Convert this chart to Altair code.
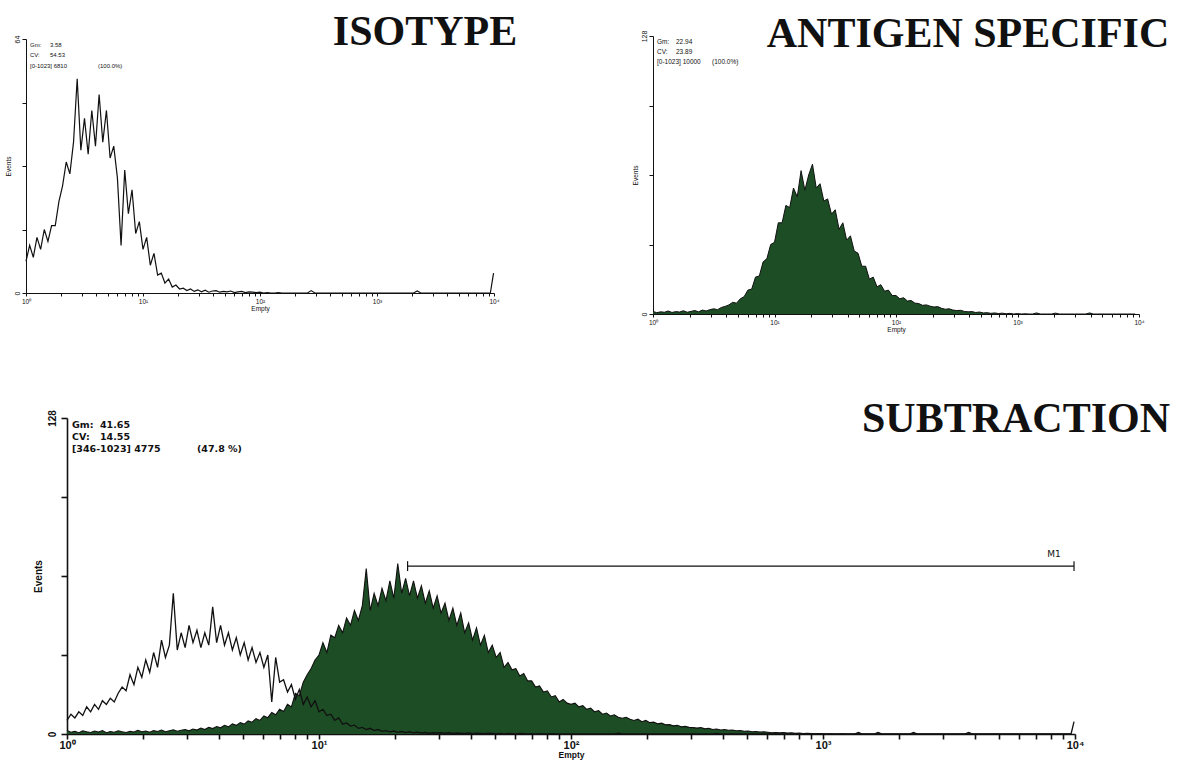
import numpy as np
import pandas as pd
import altair as alt

W, H = 1186, 760
GREEN = "#1d4d25"
INK = "#111111"

# ---- histogram counts (1024-channel, 4-decade log amplifier) ----
# upper panels: one value every 8 channels
isotype_counts = [
    8, 12, 9, 14, 11, 16, 13, 17, 17, 23, 27, 33, 30, 38, 54, 36,
    44, 35, 46, 37, 50, 38, 46, 34, 37, 29, 12, 31, 20, 26, 15, 18,
    11, 14, 7, 10, 4.5, 5, 2.5, 3.5, 1.5, 2, 1, 1.2, 0.6, 1, 0.4, 0.8,
    0.3, 0.7, 0.2, 0.5, 0.6, 0.2, 0.4, 0.3, 0.5, 0.1, 0.3, 0.4, 0.1, 0.3, 0.2, 0.1,
    0.2, 0, 0.1, 0, 0, 0.1, 0, 0, 0, 0, 0, 0, 0, 0, 0.6, 0,
    0, 0, 0, 0, 0, 0, 0, 0, 0, 0, 0, 0, 0, 0, 0, 0,
    0, 0, 0, 0, 0, 0, 0, 0, 0, 0, 0, 0.5, 0, 0, 0, 0,
    0, 0, 0, 0, 0, 0, 0, 0, 0, 0, 0, 0, 0, 0, 0, 0,
]
isotype_last = 5.0  # off-scale events piled in channel 1023

antigen_counts = [
    1.2, 0.6, 1.0, 0.8, 1.4, 0.7, 1.1, 0.9, 1.5, 0.8, 1.2, 1.6, 1.0, 1.8, 1.4, 2.0,
    2.4, 2.0, 3.0, 3.5, 4.2, 5.4, 5.0, 7.0, 8.0, 11, 11.5, 17, 17.5, 24, 25.5, 32,
    33, 42, 42, 50, 49, 58, 54, 66, 57, 64, 69, 58, 60, 52, 53, 46,
    48, 39, 42, 34, 36, 29, 28, 22, 22, 16, 17, 12.5, 13.5, 10.5, 11, 8.5,
    8.5, 7, 7.5, 6, 6.2, 5, 4.8, 4, 4.2, 3.6, 3.2, 3.4, 2.6, 2.2, 2.4, 1.8,
    1.6, 1.7, 1.2, 1.0, 1.1, 0.7, 0.9, 0.5, 0.6, 0.3, 0.5, 0.2, 0.4, 0.1, 0.3, 0,
    0.2, 0, 0.1, 0, 0, 0.5, 0, 0, 0, 0, 0.4, 0, 0, 0, 0, 0,
    0, 0, 0, 0.5, 0, 0, 0, 0, 0, 0, 0, 0, 0, 0, 0, 0,
]

# lower overlay: one value every 4 channels
overlay_isotype_counts = [
    5.5, 8, 6.5, 9, 7.5, 11, 9, 12, 10, 13.5, 12, 14.5, 13, 16.5, 19, 17.5,
    24, 20, 27, 23, 30, 25, 33, 27, 38, 31, 36, 57, 34, 41, 35, 44,
    37, 42, 35, 41, 36, 51.5, 37, 44, 36, 41, 34, 39, 32, 37, 30, 35,
    29, 33, 27, 32, 13, 31, 21, 22, 17, 20, 14, 18, 12, 15, 11, 13.5,
    9, 10, 7.5, 8, 5.5, 6.5, 4, 4.5, 3.2, 3.6, 2.3, 2.7, 1.8, 2.3, 1.4, 1.8,
    1.1, 1.4, 0.9, 1.2, 0.7, 1.0, 0.6, 0.9, 0.5, 0.7, 0.4, 0.6, 0.3, 0.5, 0.4, 0.5,
    0.3, 0.5, 0.2, 0.4, 0.3, 0.2, 0.4, 0.1, 0.3, 0.2, 0.1, 0.3, 0.2, 0.1, 0.2, 0,
    0.2, 0.1, 0, 0.2, 0.1, 0, 0.1, 0, 0.1, 0, 0, 0.1, 0, 0, 0, 0,
    0, 0, 0, 0, 0, 0, 0, 0, 0, 0, 0, 0, 0.3, 0, 0, 0,
    0, 0, 0, 0, 0, 0, 0, 0, 0, 0, 0, 0, 0, 0, 0, 0,
    0, 0, 0, 0, 0, 0.2, 0, 0, 0, 0, 0, 0, 0, 0, 0, 0,
    0, 0, 0, 0, 0, 0, 0, 0, 0, 0, 0, 0, 0, 0, 0, 0,
    0, 0, 0, 0, 0, 0, 0, 0, 0, 0, 0, 0, 0, 0, 0, 0,
    0, 0, 0, 0, 0, 0, 0, 0, 0, 0, 0, 0, 0, 0, 0, 0,
    0, 0, 0, 0, 0, 0, 0, 0, 0, 0, 0, 0, 0, 0, 0, 0,
    0, 0, 0, 0, 0, 0, 0, 0, 0, 0, 0, 0, 0, 0, 0, 0,
]
overlay_isotype_last = 5.0

subtraction_counts = [
    1.4, 0.7, 1.1, 0.5, 1.3, 0.9, 0.6, 1.2, 0.8, 1.4, 0.5, 1.0, 0.7, 1.3, 0.9, 0.6,
    1.1, 0.8, 1.5, 0.9, 1.2, 0.7, 1.4, 1.0, 1.6, 0.9, 1.3, 1.7, 1.1, 1.5, 1.8, 1.3,
    2.0, 1.6, 2.4, 1.8, 2.7, 2.2, 3.0, 2.5, 3.5, 2.9, 4.1, 3.5, 4.6, 4.0, 5.3, 4.8,
    6.2, 5.5, 7.3, 6.6, 8.7, 7.8, 10, 9.1, 12, 11, 16.5, 15.5, 21, 24, 26.5, 30,
    32, 37, 33, 40, 39, 44, 41, 47, 44, 50, 46, 52, 67, 50, 57, 52,
    59, 54, 62, 55, 69, 57, 63, 56, 62, 55, 60, 53, 58, 51, 56, 49,
    53, 46, 51, 44, 49, 41, 45, 38, 43, 36, 40, 33, 36, 31, 33, 27,
    29, 26, 26.5, 23.5, 24.5, 21.5, 21.5, 19, 19.5, 17, 17.5, 15, 15.5, 13, 14, 12.5,
    12, 12.5, 11, 11.5, 10, 10.5, 9, 9.5, 8, 8.5, 7.3, 7.8, 6.8, 6.4, 6.8, 6,
    5.5, 6, 5, 5.5, 4.6, 4.8, 4.1, 4.4, 3.7, 3.8, 3.3, 3.5, 2.9, 3.1, 2.7, 2.6,
    2.4, 2.6, 2.1, 2.3, 1.8, 2.0, 1.6, 1.8, 1.5, 1.6, 1.3, 1.4, 1.1, 1.2, 0.9, 1.0,
    0.8, 0.9, 0.7, 0.5, 0.6, 0.5, 0.6, 0.4, 0.5, 0.3, 0.4, 0.2, 0.3, 0.2, 0.1, 0.2,
    0.1, 0, 0.1, 0, 0, 0.1, 0, 0, 0, 0.7, 0, 0, 0, 0, 0.7, 0,
    0, 0, 0, 0, 0, 0, 0, 0.7, 0, 0, 0, 0, 0, 0, 0, 0,
    0, 0, 0, 0, 0, 0.7, 0, 0, 0, 0, 0, 0, 0, 0, 0, 0,
    0, 0, 0, 0, 0, 0, 0, 0, 0, 0, 0, 0, 0, 0, 0, 0,
]

# marker gate M1 (channels) and the height it is drawn at
m1_channels = [346, 1023]
m1_level = 68


def to_fl(channel):
    return 10 ** (np.asarray(channel, dtype=float) / 256.0)


def frame(counts, step, last=None):
    ch = list(range(0, 1024, step))[: len(counts)]
    vals = list(counts)
    if last is not None:
        ch.append(1023)
        vals.append(last)
    return pd.DataFrame({"fl": to_fl(ch), "count": vals})


X_TICKS = [m * 10 ** d for d in range(4) for m in range(1, 10)] + [10000]
LABEL_EXPR = (
    "datum.value == 1 ? '10⁰' : datum.value == 10 ? '10¹' : "
    "datum.value == 100 ? '10²' : datum.value == 1000 ? '10³' : "
    "datum.value == 10000 ? '10⁴' : ''"
)


def encodings(x0, x1, y0, y1, ymax, big):
    font = "Liberation Sans"
    lsize = 11 if big else 6.5
    weight = "bold" if big else "normal"
    width = 1.6 if big else 1.0
    x = alt.X(
        "fl:Q",
        scale=alt.Scale(type="log", domain=[1, 10000], range=[x0, x1], nice=False),
        axis=alt.Axis(
            orient="bottom", offset=y0 - H, values=X_TICKS, labelExpr=LABEL_EXPR,
            title="Empty", grid=False, labelOverlap=False, labelFlush=False,
            tickSize=5 if big else 3, tickWidth=width, domainWidth=width,
            domainColor=INK, tickColor=INK, labelColor=INK, titleColor=INK,
            labelFont=font, titleFont=font, labelFontSize=lsize,
            titleFontSize=8.5 if big else 6.5, labelFontWeight=weight,
            titleFontWeight=weight, labelPadding=0 if big else 2,
            titlePadding=0 if big else 1,
        ),
    )
    y = alt.Y(
        "count:Q",
        scale=alt.Scale(domain=[0, ymax], range=[y0, y1], nice=False, zero=True),
        axis=alt.Axis(
            orient="left", offset=-x0,
            values=[0, ymax / 4, ymax / 2, 3 * ymax / 4, ymax],
            labelExpr=f"datum.value == 0 || datum.value == {ymax} ? datum.label : ''",
            title="Events", grid=False, labelAngle=270, labelAlign="center",
            labelBaseline="bottom", tickSize=6 if big else 4, tickWidth=width,
            domainWidth=width, domainColor=INK, tickColor=INK, labelColor=INK,
            titleColor=INK, labelFont=font, titleFont=font,
            labelFontSize=10 if big else 7, titleFontSize=10 if big else 6.5,
            labelFontWeight=weight, titleFontWeight=weight,
            labelPadding=4 if big else 2, titlePadding=4 if big else 2,
        ),
    )
    return x, y


# ---- ISOTYPE ----
x1e, y1e = encodings(26, 494, 293, 39, 64, False)
iso_panel = alt.Chart(frame(isotype_counts, 8, isotype_last)).mark_line(
    color=INK, strokeWidth=1.2
).encode(x=x1e, y=y1e)

# ---- ANTIGEN SPECIFIC ----
x2e, y2e = encodings(653, 1139, 314, 36, 128, False)
antigen_panel = alt.Chart(frame(antigen_counts, 8)).mark_area(
    color=GREEN, opacity=1, line={"color": INK, "strokeWidth": 1.0}
).encode(x=x2e, y=y2e)

# ---- SUBTRACTION overlay ----
x3e, y3e = encodings(67, 1075, 734, 418, 128, True)
sub_area = alt.Chart(frame(subtraction_counts, 4)).mark_area(
    color=GREEN, opacity=1, line={"color": INK, "strokeWidth": 1.1}
).encode(x=x3e, y=y3e)
sub_iso = alt.Chart(frame(overlay_isotype_counts, 4, overlay_isotype_last)).mark_line(
    color=INK, strokeWidth=1.3
).encode(x=x3e, y=y3e)

gate = to_fl(m1_channels)
m1_bar = alt.Chart(
    pd.DataFrame({"fl": [gate[0]], "fl_end": [gate[1]], "count": [m1_level]})
).mark_rule(color=INK, strokeWidth=1.2).encode(x=x3e, x2="fl_end:Q", y=y3e)
m1_caps = alt.Chart(
    pd.DataFrame({"fl": list(gate), "count": [m1_level - 2] * 2, "count_hi": [m1_level + 2] * 2})
).mark_rule(color=INK, strokeWidth=1.2).encode(x=x3e, y=y3e, y2="count_hi:Q")

sub_panel = alt.layer(sub_area, sub_iso, m1_bar, m1_caps)


def note(text, x, y, size, font="Liberation Sans", weight="normal", align="left", baseline="middle"):
    return alt.Chart(pd.DataFrame({"t": [text]})).mark_text(
        font=font, fontSize=size, fontWeight=weight, align=align,
        baseline=baseline, color=INK,
    ).encode(x=alt.value(x), y=alt.value(y), text="t:N")


serif = "Liberation Serif"
mono = "DejaVu Sans"
notes = [
    note("ISOTYPE", 425, 45, 42, serif, "bold", "center", "alphabetic"),
    note("ANTIGEN SPECIFIC", 968, 47, 42, serif, "bold", "center", "alphabetic"),
    note("SUBTRACTION", 1016, 432, 42, serif, "bold", "center", "alphabetic"),
    # statistics boxes
    note("Gm:", 30, 45, 6), note("3.58", 50, 45, 6),
    note("CV:", 30, 55, 6), note("54.53", 50, 55, 6),
    note("[0-1023] 6810", 30, 66, 6), note("(100.0%)", 98, 66, 6),
    note("Gm:", 657, 42, 6.5), note("22.94", 676, 42, 6.5),
    note("CV:", 657, 52, 6.5), note("23.89", 676, 52, 6.5),
    note("[0-1023] 10000", 657, 62, 6.5), note("(100.0%)", 712, 62, 6.5),
    note("Gm:", 72, 425, 9.5, mono, "bold"), note("41.65", 100, 425, 9.5, mono, "bold"),
    note("CV:", 72, 437, 9.5, mono, "bold"), note("14.55", 100, 437, 9.5, mono, "bold"),
    note("[346-1023] 4775", 72, 449, 9.5, mono, "bold"),
    note("(47.8 %)", 197, 449, 9.5, mono, "bold"),
    note("M1", 1054, 559, 9, mono, "normal", "center", "bottom"),
]

panels = alt.layer(iso_panel, antigen_panel, sub_panel).resolve_scale(
    x="independent", y="independent"
).resolve_axis(x="independent", y="independent")

chart = alt.layer(panels, *notes).properties(
    width=W, height=H, padding=0, autosize=alt.AutoSizeParams(type="none"),
    background="white",
).configure_view(stroke=None)

chart.save("out.html", embed_options={"renderer": "svg", "actions": False})
